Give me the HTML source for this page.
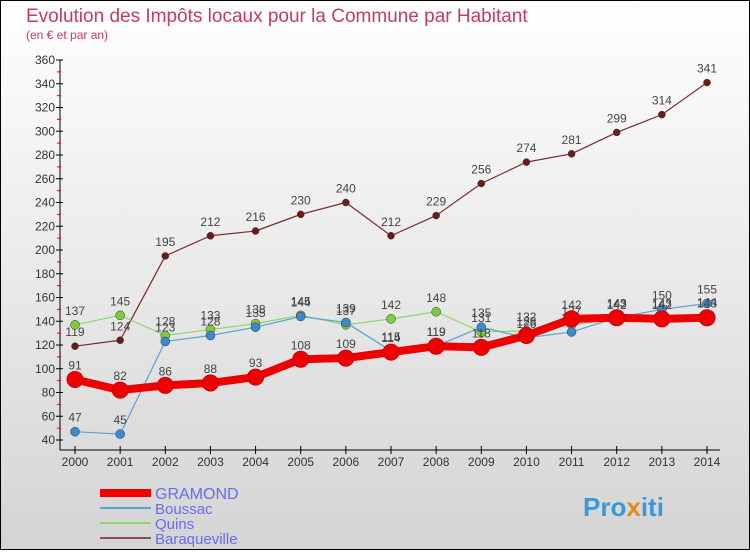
<!DOCTYPE html>
<html><head><meta charset="utf-8"><style>
body{margin:0}
#c{width:750px;height:550px;position:relative;font-family:"Liberation Sans",sans-serif}
</style></head><body>
<div id="c">
<svg id="s" width="750" height="550" xmlns="http://www.w3.org/2000/svg">
<defs><linearGradient id="bg" x1="0" y1="0" x2="0" y2="1"><stop offset="0" stop-color="#ffffff"/><stop offset="1" stop-color="#d4d4d4"/></linearGradient></defs>
<rect x="0.5" y="0.5" width="749" height="549" fill="url(#bg)" stroke="#000"/>
<text x="26" y="22" font-size="19" fill="#c8386a">Evolution des Impôts locaux pour la Commune par Habitant</text>
<text x="26" y="39" font-size="12" fill="#c8386a">(en € et par an)</text>
<g id="axes"></g><g id="series"></g><g id="legend"></g>
<text x="583" y="516" font-size="26" font-weight="bold" fill="#3a9ad9">Pro<tspan fill="#e88a1a">x</tspan>iti</text>
</svg></div>
<script>
const years=[2000,2001,2002,2003,2004,2005,2006,2007,2008,2009,2010,2011,2012,2013,2014];
const gramond=[91,82,86,88,93,108,109,114,119,118,128,142,143,142,143];
const boussac=[47,45,123,128,135,144,139,115,119,135,126,131,143,150,155];
const quins=[137,145,128,133,138,145,137,142,148,131,132,137,142,143,144];
const baraqueville=[119,124,195,212,216,230,240,212,229,256,274,281,299,314,341];
const yTicks=[40,60,80,100,120,140,160,180,200,220,240,260,280,300,320,340,360];
const NS="http://www.w3.org/2000/svg";
const x=i=>75+i*(707-75)/(years.length-1);
const y=v=>440-(v-40)*380/320;
function mk(t,a,p){const e=document.createElementNS(NS,t);for(const k in a)e.setAttribute(k,a[k]);p.appendChild(e);return e;}
const ax=document.getElementById('axes');
let yl=mk('line',{x1:60,y1:60,x2:60,y2:450,stroke:'#000'},ax);


let xl=mk('line',{x1:60,y1:450,x2:720,y2:450,stroke:'#000'},ax);


yTicks.forEach(v=>{
  mk('line',{x1:56,y1:y(v),x2:63,y2:y(v),stroke:'#000'},ax);
  if(v<360)mk('line',{x1:57,y1:y(v+10),x2:61,y2:y(v+10),stroke:'#e00'},ax);
  const t=mk('text',{x:55,y:y(v)+4,'font-size':12,'text-anchor':'end',fill:'#333'},ax);
  t.textContent=v;
  
  
});
years.forEach((yr,i)=>{
  mk('line',{x1:x(i),y1:446,x2:x(i),y2:454,stroke:'#000'},ax);
  const t=mk('text',{x:x(i),y:466,'font-size':12,'text-anchor':'middle',fill:'#333'},ax);
  t.textContent=yr;
  
  
});
const sg=document.getElementById('series');
const defs=[
 ['baraqueville',baraqueville,'#7a2a2a','#6b1a1a',1.2,3.5],
 ['quins',quins,'#8fd46a','#7ccc3c',1.2,4.5],
 ['boussac',boussac,'#5aa2d4','#3a8ad0',1.2,4.5],
 ['gramond',gramond,'#ee0000','#ee0000',8,8]];
defs.forEach(([n,d,lc,pc,w,r])=>{
  const g=mk('g',{},sg);
  
  
  const pl=mk('polyline',{points:d.map((v,i)=>x(i)+','+y(v)).join(' '),fill:'none',stroke:lc,'stroke-width':w,'stroke-linejoin':'round'},g);
  
  
  d.forEach((v,i)=>{
    const c=mk('circle',{cx:x(i),cy:y(v),r:r,fill:pc,stroke:n==='gramond'?'#c00':'#333','stroke-width':n==='gramond'?1:0.5},g);
    
    
    const t=mk('text',{x:x(i),y:y(v)-10,'font-size':12,'text-anchor':'middle',fill:'#444'},g);
    t.textContent=v;
    
    
  });
});
const lg=document.getElementById('legend');
[['GRAMOND','#ee0000',8],['Boussac','#5aa2d4',2],['Quins','#8fd46a',2],['Baraqueville','#8a5050',2]].forEach(([n,c,w],i)=>{
  const yy=493+i*15;
  const g=mk('g',{},lg);
  
  
  mk('line',{x1:100,y1:yy,x2:151,y2:yy,stroke:c,'stroke-width':w},g);
  const t=mk('text',{x:155,y:yy+6,'font-size':i===0?16:15,fill:'#6a6af0'},g);
  t.textContent=n;
});
</script>
</body></html>
